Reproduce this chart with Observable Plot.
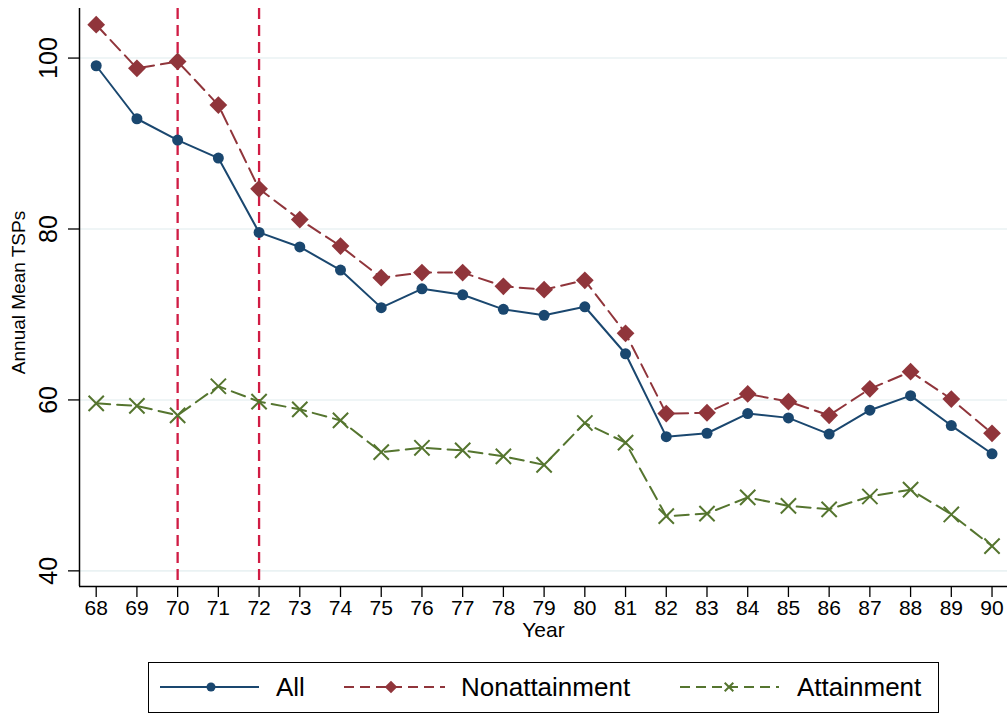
<!DOCTYPE html>
<html><head><meta charset="utf-8">
<script src="https://cdn.jsdelivr.net/npm/d3@7"></script>
<script src="https://cdn.jsdelivr.net/npm/@observablehq/plot@0.6"></script>
<style>
body{margin:0;background:#fff;font-family:"Liberation Sans",Arial,Helvetica,sans-serif;}
#chart{position:absolute;left:0;top:0;}
#legend{position:absolute;left:148px;top:662px;width:789px;height:49px;border:1px solid #000;}
</style></head><body>
<div id="chart"></div><div id="legend"></div>
<script>
const years = [68,69,70,71,72,73,74,75,76,77,78,79,80,81,82,83,84,85,86,87,88,89,90];
const allVals = [99.1,92.9,90.4,88.3,79.6,77.9,75.2,70.8,73.0,72.3,70.6,69.9,70.9,65.4,55.7,56.1,58.4,57.9,56.0,58.8,60.5,57.0,53.7];
const nonVals = [103.9,98.8,99.6,94.5,84.7,81.1,78.0,74.3,74.9,74.9,73.3,72.9,74.0,67.8,58.4,58.5,60.7,59.8,58.2,61.3,63.3,60.1,56.1];
const attVals = [59.6,59.3,58.2,61.6,59.8,58.9,57.6,53.9,54.4,54.1,53.4,52.4,57.3,55.0,46.4,46.7,48.6,47.6,47.2,48.7,49.5,46.6,42.9];
const seriesNames = ["All","Nonattainment","Attainment"];
const seriesColors = ["#1a476f","#90353b","#55752f"];
const yTicks = [40,60,80,100];
const policyYears = [70,72];
const xDomain = [67.59, 90.38];
const yDomain = [38.17, 105.8];

const mk = (vals) => years.map((yr,i)=>({year:yr, v:vals[i]}));
const dAll = mk(allVals), dNon = mk(nonVals), dAtt = mk(attVals);

const plot = Plot.plot({
  width: 1007, height: 650,
  marginTop: 8, marginBottom: 64, marginLeft: 79, marginRight: 0,
  style: {fontFamily: '"Liberation Sans",Arial,Helvetica,sans-serif', background: "#fff"},
  x: {domain: xDomain, axis: null},
  y: {domain: yDomain, axis: null},
  marks: [
    Plot.gridY(yTicks, {stroke: "#eaf2f3", strokeOpacity: 1, strokeWidth: 1.6}),
    Plot.ruleX(policyYears, {stroke: "#d01c44", strokeWidth: 2.3, strokeDasharray: "11,6"}),
    Plot.line(dAll, {x:"year", y:"v", stroke: seriesColors[0], strokeWidth: 2}),
    Plot.dot(dAll, {x:"year", y:"v", fill: seriesColors[0], r: 5.5, symbol: "circle"}),
    Plot.line(dNon, {x:"year", y:"v", stroke: seriesColors[1], strokeWidth: 2, strokeDasharray: "14,7"}),
    Plot.dot(dNon, {x:"year", y:"v", fill: seriesColors[1], r: 8, symbol: "diamond2"}),
    Plot.line(dAtt, {x:"year", y:"v", stroke: seriesColors[2], strokeWidth: 2, strokeDasharray: "14,7"}),
    Plot.dot(dAtt, {x:"year", y:"v", stroke: seriesColors[2], r: 7, symbol: "times", strokeWidth: 2}),
    Plot.ruleX([xDomain[0]], {stroke: "#000", strokeWidth: 1.5}),
    Plot.ruleY([yDomain[0]], {stroke: "#000", strokeWidth: 1.5}),
    Plot.axisY(yTicks, {tickSize: 11, tickRotate: -90, tickPadding: 12, fontSize: 25, fill: "#000", stroke: "#000", strokeWidth: 1.3, label: null}),
    Plot.axisX(years, {tickSize: 11, tickPadding: 3, fontSize: 21, fill: "#000", stroke: "#000", strokeWidth: 1.3, tickFormat: d => String(d), label: null}),
    Plot.text(["Year"], {frameAnchor: "bottom", dy: 50, fontSize: 21, fill: "#000"}),
    Plot.text(["Annual Mean TSPs"], {frameAnchor: "left", textAnchor: "middle", dx: -61, dy: -5, rotate: -90, fontSize: 19, fill: "#000"})
  ]
});
document.getElementById("chart").appendChild(plot);

// legend
const lg = d3.select("#legend").append("svg").attr("width", 789).attr("height", 49)
  .style("position","absolute").style("left","0").style("top","0");
const items = [
  {x0: 11, x1: 110, mx: 62, text: 275-148, dash: null, sym: "circle"},
  {x0: 195, x1: 296, mx: 242, text: 460-148, dash: "10,6", sym: "diamond"},
  {x0: 531, x1: 630, mx: 580, text: 796-148, dash: "10,6", sym: "times"}
];
const cy = 24;
items.forEach((it, i) => {
  const c = seriesColors[i];
  const ln = lg.append("line").attr("x1", it.x0).attr("x2", it.x1).attr("y1", cy).attr("y2", cy)
    .attr("stroke", c).attr("stroke-width", 2);
  if (it.dash) ln.attr("stroke-dasharray", it.dash);
  if (it.sym === "circle") lg.append("circle").attr("cx", it.mx).attr("cy", cy).attr("r", 4.5).attr("fill", c);
  else if (it.sym === "diamond") lg.append("path").attr("transform", `translate(${it.mx},${cy})`)
    .attr("d", d3.symbol(d3.symbolDiamond2, 100)()).attr("fill", c);
  else lg.append("path").attr("transform", `translate(${it.mx},${cy})`)
    .attr("d", d3.symbol(d3.symbolTimes, 50)()).attr("stroke", c).attr("stroke-width", 2).attr("fill", "none");
  lg.append("text").attr("x", it.text).attr("y", cy + 9).attr("font-size", 26)
    .attr("font-family", '"Liberation Sans",Arial,Helvetica,sans-serif').attr("fill", "#000").text(seriesNames[i]);
});
</script>
</body></html>
